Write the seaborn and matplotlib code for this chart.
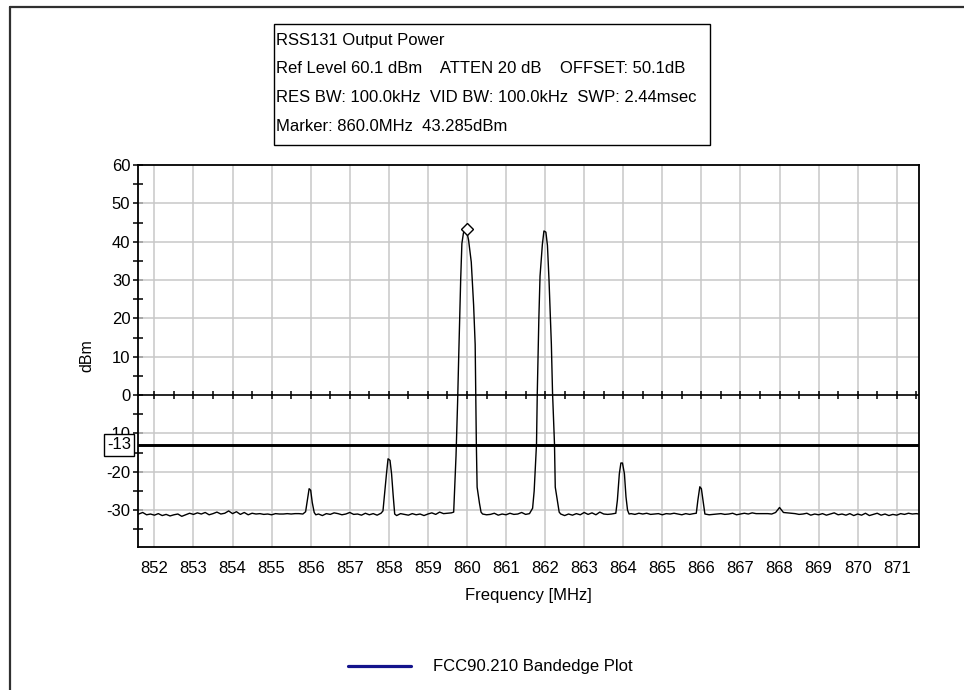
import numpy as np
import pandas as pd
import matplotlib
matplotlib.use("Agg")
import matplotlib.pyplot as plt
import seaborn as sns
from matplotlib.lines import Line2D
from matplotlib.patches import Rectangle

# ---------------- data ----------------
freq_mhz = [
    851.58, 851.6, 851.7, 851.8, 851.9, 852.0, 852.1, 852.2, 852.3, 852.4, 852.5,
    852.6, 852.7, 852.8, 852.9, 853.0, 853.1, 853.2, 853.3, 853.4, 853.5,
    853.6, 853.7, 853.8, 853.9, 854.0, 854.1, 854.2, 854.3, 854.4, 854.5,
    854.6, 854.7, 854.8, 854.9, 855.0, 855.1, 855.2, 855.3, 855.4, 855.5,
    855.6, 855.7, 855.8,
    855.87, 855.91, 855.96, 856.0, 856.04, 856.09, 856.13,
    856.2, 856.3, 856.4, 856.5, 856.6, 856.7, 856.8, 856.9, 857.0, 857.1,
    857.2, 857.3, 857.4, 857.5, 857.6, 857.7, 857.8,
    857.85, 857.9, 857.94, 857.98, 858.03, 858.07, 858.11, 858.15,
    858.2, 858.3, 858.4, 858.5, 858.6, 858.7, 858.8, 858.9, 859.0, 859.1,
    859.2, 859.3, 859.4, 859.5, 859.6,
    859.66, 859.72, 859.76, 859.79, 859.84, 859.87, 859.91, 859.98, 860.04,
    860.11, 860.17, 860.21, 860.24, 860.26, 860.32, 860.36,
    860.4, 860.5, 860.6, 860.7, 860.8, 860.9, 861.0, 861.1, 861.2, 861.3,
    861.4, 861.5, 861.6,
    861.68, 861.72, 861.78, 861.8, 861.84, 861.87, 861.93, 861.97, 862.02,
    862.06, 862.1, 862.16, 862.19, 862.24, 862.26, 862.32, 862.36,
    862.4, 862.5, 862.6, 862.7, 862.8, 862.9, 863.0, 863.1, 863.2, 863.3,
    863.4, 863.5, 863.6, 863.7, 863.81,
    863.85, 863.9, 863.94, 863.98, 864.03, 864.07, 864.11, 864.15,
    864.2, 864.3, 864.4, 864.5, 864.6, 864.7, 864.8, 864.9, 865.0, 865.1,
    865.2, 865.3, 865.4, 865.5, 865.6, 865.7, 865.8,
    865.87, 865.91, 865.96, 866.0, 866.04, 866.09,
    866.2, 866.3, 866.4, 866.5, 866.6, 866.7, 866.8, 866.9, 867.0, 867.1,
    867.2, 867.3, 867.4, 867.5, 867.6, 867.7, 867.8, 867.9, 868.0, 868.1,
    868.2, 868.3, 868.4, 868.5, 868.6, 868.7, 868.8, 868.9, 869.0, 869.1,
    869.2, 869.3, 869.4, 869.5, 869.6, 869.7, 869.8, 869.9, 870.0, 870.1,
    870.2, 870.3, 870.4, 870.5, 870.6, 870.7, 870.8, 870.9, 871.0, 871.1,
    871.2, 871.3, 871.4, 871.5, 871.57,
]
level_dbm = [
    -31.1, -31.0, -30.6, -31.2, -31.0, -31.3, -30.9, -31.4, -31.1, -31.5, -31.2,
    -31.0, -31.6, -31.2, -30.8, -31.1, -30.7, -31.0, -30.6, -31.2, -30.9,
    -30.5, -31.0, -30.8, -30.2, -30.9, -30.4, -31.1, -30.6, -31.2, -30.8,
    -31.0, -30.9, -31.1, -31.0, -31.2, -30.9, -31.0, -31.0, -30.9, -31.0,
    -30.9, -30.9, -31.0,
    -30.4, -27.8, -24.4, -24.8, -28.0, -30.6, -31.2,
    -31.0, -31.4, -30.9, -31.1, -30.7, -30.9, -31.2, -31.0, -30.6, -31.1,
    -31.0, -31.3, -30.8, -31.2, -30.9, -31.3, -30.8,
    -30.2, -24.8, -20.5, -16.6, -17.0, -20.5, -26.0, -31.0,
    -31.4, -30.9, -31.1, -31.3, -30.9, -31.2, -31.0, -31.4, -31.0, -30.7,
    -31.1, -30.5, -30.9, -30.8, -30.7,
    -30.5, -15.8, -2.0, 10.6, 30.4, 39.5, 42.3, 43.3, 40.5,
    34.7, 23.5, 13.2, -12.7, -24.0, -28.2, -30.5,
    -31.0, -31.2, -31.1, -30.8, -31.3, -31.0, -31.2, -30.8, -31.1, -31.0,
    -30.6, -31.1, -30.9,
    -29.5, -25.0, -12.7, 0.7, 20.0, 31.0, 39.3, 42.8, 42.5,
    39.0, 30.0, 13.3, 0.7, -12.7, -24.0, -28.0, -30.5,
    -31.0, -31.4, -31.0, -31.3, -30.9, -31.2, -30.6, -31.1, -30.7, -31.2,
    -30.5, -31.0, -31.1, -31.0, -30.8,
    -27.4, -20.5, -17.7, -17.7, -20.5, -26.5, -30.0, -31.0,
    -30.9, -31.1, -30.8, -31.0, -30.8, -31.1, -31.0, -30.9, -31.2, -30.9,
    -31.0, -30.8, -31.0, -31.2, -30.9, -31.1, -30.9,
    -30.8, -27.4, -23.9, -24.4, -27.4, -31.0,
    -31.2, -31.1, -31.0, -30.9, -31.1, -31.0, -30.8, -31.2, -31.0, -30.8,
    -31.0, -30.7, -30.9, -30.9, -30.9, -30.9, -31.0, -30.6, -29.3, -30.6,
    -30.7, -30.8, -30.9, -31.1, -31.0, -30.8, -31.3, -31.0, -31.2, -30.9,
    -31.3, -31.0, -30.7, -31.2, -31.0, -31.3, -30.9, -31.4, -31.0, -31.3,
    -30.8, -31.4, -31.1, -30.8, -31.3, -31.0, -31.4, -31.1, -31.3, -30.9,
    -31.1, -30.8, -31.0, -30.9, -31.0,
]
x_ticks = [852, 853, 854, 855, 856, 857, 858, 859, 860, 861,
           862, 863, 864, 865, 866, 867, 868, 869, 870, 871]
y_ticks = [-30, -20, -10, 0, 10, 20, 30, 40, 50, 60]
limit_dbm = -13
marker_freq = 860.0
marker_level = 43.285
header_lines = [
    "RSS131 Output Power",
    "Ref Level 60.1 dBm    ATTEN 20 dB    OFFSET: 50.1dB",
    "RES BW: 100.0kHz  VID BW: 100.0kHz  SWP: 2.44msec",
    "Marker: 860.0MHz  43.285dBm",
]
legend_label = "FCC90.210 Bandedge Plot"
x_label = "Frequency [MHz]"
y_label = "dBm"

# ---------------- styling ----------------
sns.set_theme(style="white")
plt.rcParams["font.family"] = ["Liberation Sans", "DejaVu Sans"]
plt.rcParams["axes.unicode_minus"] = False

FS = 12
W, H = 964, 690
fig = plt.figure(figsize=(W / 100, H / 100), dpi=100)
fig.patch.set_facecolor("white")

ax_l, ax_r, ax_t, ax_b = 138, 919, 165, 547
ax = fig.add_axes([ax_l / W, 1 - ax_b / H, (ax_r - ax_l) / W, (ax_b - ax_t) / H])
ax.set_facecolor("white")

df = pd.DataFrame({"freq": freq_mhz, "level": level_dbm})
sns.lineplot(data=df, x="freq", y="level", ax=ax, color="black", lw=1.0,
             sort=False, estimator=None, zorder=4)

ax.set_xlim(851.58, 871.57)
ax.set_ylim(-39.6, 60)

# grid
for xv in x_ticks:
    ax.axvline(xv, color="#c8c8c8", lw=1.1, zorder=1)
for yv in y_ticks:
    if yv not in (0, 60):
        ax.axhline(yv, color="#c8c8c8", lw=1.1, zorder=1)

# zero line with half-MHz ticks
ax.axhline(0, color="black", lw=1.2, zorder=3)
zero_ticks = [852 + 0.5 * i for i in range(40)]
ax.plot(zero_ticks, [0] * len(zero_ticks), ls="none", marker="|", ms=5.5,
        mew=1.1, color="black", zorder=3)

# limit line
ax.axhline(limit_dbm, color="black", lw=2.1, zorder=3)

# marker
ax.plot([marker_freq], [marker_level], marker="D", ms=6, mfc="white",
        mec="black", mew=1.0, ls="none", zorder=5)

# axes ticks
ax.set_xticks(x_ticks)
ax.set_xticklabels([str(v) for v in x_ticks])
ax.set_yticks(y_ticks)
ax.set_yticklabels([str(v) for v in y_ticks])
ax.set_yticks([-35, -25, -15, -5, 5, 15, 25, 35, 45, 55], minor=True)
ax.tick_params(axis="y", which="both", direction="inout", length=7, width=1.1,
               color="black", left=True, pad=2, labelsize=FS, labelcolor="black")
ax.tick_params(axis="x", which="both", length=0, pad=10, labelsize=FS,
               labelcolor="black")

for s in ax.spines.values():
    s.set_color("black")
    s.set_linewidth(1.3)
    s.set_visible(True)

ax.set_xlabel(x_label, fontsize=FS, color="black")
ax.xaxis.set_label_coords(0.5, (ax_b - 588) / (ax_b - ax_t))
ax.set_ylabel(y_label, fontsize=FS - 0.5, color="black")
ax.yaxis.set_label_coords((94 - ax_l) / (ax_r - ax_l), 0.5)

# -13 label box
ax.text((119 - ax_l) / (ax_r - ax_l), limit_dbm, str(limit_dbm),
        transform=ax.get_yaxis_transform(), ha="center", va="center",
        fontsize=FS, color="black", zorder=10, clip_on=False,
        bbox=dict(boxstyle="square,pad=0.2", fc="white", ec="black", lw=1.0))

# header box
fig.add_artist(Rectangle((274 / W, 1 - 145 / H), 436 / W, 121 / H,
                         transform=fig.transFigure, fill=False, ec="black", lw=1.0))
for i, line in enumerate(header_lines):
    fig.text(276 / W, 1 - (40 + 28.7 * i) / H, line, ha="left", va="center",
             fontsize=FS, color="black")

# legend
fig.add_artist(Line2D([348 / W, 411 / W], [1 - 666 / H, 1 - 666 / H],
                      transform=fig.transFigure, color="#14148c", lw=2.3))
fig.text(433 / W, 1 - 666 / H, legend_label, ha="left", va="center",
         fontsize=FS, color="black")

# outer frame (top and left edges)
fig.add_artist(Line2D([10 / W, 1], [1 - 6.5 / H, 1 - 6.5 / H],
                      transform=fig.transFigure, color="#303030", lw=1.6))
fig.add_artist(Line2D([10 / W, 10 / W], [0, 1 - 6.5 / H],
                      transform=fig.transFigure, color="#303030", lw=1.6))

fig.savefig("out.png", dpi=100, facecolor="white")
